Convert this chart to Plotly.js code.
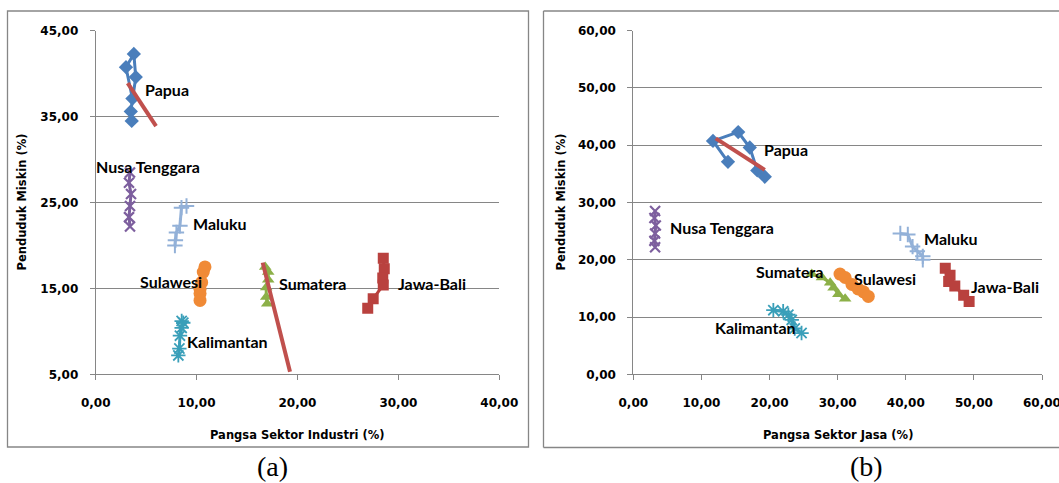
<!DOCTYPE html>
<html>
<head>
<meta charset="utf-8">
<script src="https://cdn.plot.ly/plotly-3.0.1.min.js"></script>
<style>
  html, body { margin: 0; padding: 0; background: #ffffff; }
  #chart { width: 1059px; height: 483px; }
</style>
</head>
<body>
<div id="chart"></div>
<script>
// ---- Data ----
const regions = ['Papua', 'Nusa Tenggara', 'Maluku', 'Sulawesi', 'Sumatera', 'Jawa-Bali', 'Kalimantan'];

// Penduduk Miskin (%) per region (same values in both panels)
const povPapua      = [37.1, 40.75, 42.3, 39.6, 35.6, 34.5];
const povNusa       = [28.5, 27.3, 26.0, 24.6, 23.3, 22.2];
const povMaluku     = [24.6, 24.4, 22.3, 21.5, 20.6, 20.0];
const povSulawesi   = [17.5, 16.9, 15.7, 14.9, 14.4, 13.6];
const povSumatera   = [17.5, 16.9, 16.0, 15.1, 14.0, 13.2];
const povJawaBali   = [18.5, 17.3, 16.2, 15.4, 13.8, 12.7];
const povKalimantan = [11.2, 11.0, 10.4, 9.5, 8.0, 7.2];

// Pangsa Sektor Industri (%)  -- panel (a)
const indPapua      = [3.64, 3.0, 3.78, 3.97, 3.48, 3.57];
const indNusa       = [3.4, 3.3, 3.5, 3.4, 3.3, 3.4];
const indMaluku     = [9.0, 8.5, 8.35, 8.0, 7.9, 7.85];
const indSulawesi   = [10.83, 10.66, 10.5, 10.34, 10.34, 10.34];
const indSumatera   = [16.8, 17.1, 17.1, 16.9, 16.9, 17.0];
const indJawaBali   = [28.5, 28.6, 28.45, 28.5, 27.5, 26.96];
const indKalimantan = [8.52, 8.68, 8.52, 8.35, 8.29, 8.19];

// Pangsa Sektor Jasa (%)  -- panel (b)
const jasaPapua      = [13.9, 11.7, 15.4, 17.1, 18.2, 19.3];
const jasaNusa       = [3.2, 3.1, 3.3, 3.2, 3.1, 3.2];
const jasaMaluku     = [39.2, 40.3, 41.0, 41.7, 42.5, 42.5];
const jasaSulawesi   = [30.35, 31.1, 32.1, 33.0, 33.8, 34.5];
const jasaSumatera   = [26.2, 27.7, 28.9, 29.4, 30.1, 31.1];
const jasaJawaBali   = [45.8, 46.5, 46.3, 47.2, 48.5, 49.3];
const jasaKalimantan = [20.56, 22.0, 22.76, 23.26, 23.7, 24.7];

// Linear trend lines (end points)
const trendPapuaIndX = [3.17, 5.98],  trendPapuaIndY = [38.9, 33.9];
const trendSumIndX   = [16.55, 19.26], trendSumIndY  = [18.0, 5.3];
const trendPapuaJasaX = [12.1, 19.3], trendPapuaJasaY = [41.2, 35.7];

// Axis tick values
const ticksA_x = [0, 10, 20, 30, 40];
const ticksA_y = [5, 15, 25, 35, 45];
const ticksB_x = [0, 10, 20, 30, 40, 50, 60];
const ticksB_y = [0, 10, 20, 30, 40, 50, 60];

// ---- Styles ----
const styles = {
  'Papua':        {color: '#4A7EBB', symbol: 'diamond',        size: 11, lw: 0},
  'Nusa Tenggara':{color: '#7D5F9E', symbol: 'x-thin-open',    size: 10, lw: 2.2},
  'Maluku':       {color: '#93B1D8', symbol: 'cross-thin-open',size: 11, lw: 2},
  'Sulawesi':     {color: '#F08A36', symbol: 'circle',         size: 13, lw: 0},
  'Sumatera':     {color: '#8CB048', symbol: 'triangle-up',    size: 11, lw: 0},
  'Jawa-Bali':    {color: '#B9413E', symbol: 'square',         size: 11, lw: 0},
  'Kalimantan':   {color: '#3A9FB9', symbol: 'asterisk-open',  size: 12, lw: 1.8}
};

const dataA = {
  'Papua': [indPapua, povPapua], 'Nusa Tenggara': [indNusa, povNusa], 'Maluku': [indMaluku, povMaluku],
  'Sulawesi': [indSulawesi, povSulawesi], 'Sumatera': [indSumatera, povSumatera],
  'Jawa-Bali': [indJawaBali, povJawaBali], 'Kalimantan': [indKalimantan, povKalimantan]
};
const dataB = {
  'Papua': [jasaPapua, povPapua], 'Nusa Tenggara': [jasaNusa, povNusa], 'Maluku': [jasaMaluku, povMaluku],
  'Sulawesi': [jasaSulawesi, povSulawesi], 'Sumatera': [jasaSumatera, povSumatera],
  'Jawa-Bali': [jasaJawaBali, povJawaBali], 'Kalimantan': [jasaKalimantan, povKalimantan]
};

function seriesTrace(name, xy, xa, ya) {
  const s = styles[name];
  const open = s.symbol.indexOf('open') >= 0;
  return {
    type: 'scatter', mode: 'lines+markers', name: name,
    x: xy[0], y: xy[1], xaxis: xa, yaxis: ya, showlegend: false, hoverinfo: 'skip',
    line: {color: s.color, width: 3},
    marker: {symbol: s.symbol, size: s.size, color: s.color,
             line: {color: s.color, width: open ? s.lw : 0}}
  };
}
function trendTrace(x, y, xa, ya) {
  return {type: 'scatter', mode: 'lines', x: x, y: y, xaxis: xa, yaxis: ya,
          showlegend: false, hoverinfo: 'skip', line: {color: '#C0504D', width: 4}};
}

const traces = [];
regions.forEach(r => traces.push(seriesTrace(r, dataA[r], 'x', 'y')));
traces.push(trendTrace(trendPapuaIndX, trendPapuaIndY, 'x', 'y'));
traces.push(trendTrace(trendSumIndX, trendSumIndY, 'x', 'y'));
regions.forEach(r => traces.push(seriesTrace(r, dataB[r], 'x2', 'y2')));
traces.push(trendTrace(trendPapuaJasaX, trendPapuaJasaY, 'x2', 'y2'));

const W = 1059, H = 483;
const px = v => v / W, py = v => 1 - v / H;

const tickFont = {family: 'DejaVu Sans', size: 12, color: '#000', weight: 'bold'};
const gray = '#868686';
function xAxis(domain, range, tv, anchor) {
  return {domain: domain, range: range, tickvals: tv, tickformat: '.2f', showgrid: false, zeroline: false,
          showline: true, linecolor: gray, linewidth: 1, ticks: 'outside', ticklen: 5, tickcolor: gray,
          tickfont: tickFont, ticklabelstandoff: 12, ticklabeloverflow: 'allow', anchor: anchor, fixedrange: true};
}
function yAxis(domain, range, tv, anchor) {
  return {domain: domain, range: range, tickvals: tv, tickformat: '.2f', showgrid: true, gridcolor: gray,
          gridwidth: 1, zeroline: false, showline: true, linecolor: gray, linewidth: 1, ticks: 'outside',
          ticklen: 5, tickcolor: gray, tickfont: tickFont, ticklabelstandoff: 9, anchor: anchor, fixedrange: true};
}

const labelFont = {family: 'Lato', size: 16, color: '#000', weight: 'bold'};
function lab(text, x, y, xref, yref) {
  return {text: text, x: x, y: y, xref: xref, yref: yref, showarrow: false, font: labelFont,
          xanchor: 'center', yanchor: 'middle'};
}
const titleFont = {family: 'DejaVu Sans', size: 11.5, color: '#000', weight: 'bold'};

const annotations = [
  lab('Papua', 7.04, 38.1, 'x', 'y'),
  lab('Nusa Tenggara', 5.18, 29.17, 'x', 'y'),
  lab('Maluku', 12.32, 22.58, 'x', 'y'),
  lab('Sulawesi', 7.51, 15.78, 'x', 'y'),
  lab('Sumatera', 21.49, 15.59, 'x', 'y'),
  lab('Jawa-Bali', 33.33, 15.59, 'x', 'y'),
  lab('Kalimantan', 13.11, 8.8, 'x', 'y'),
  lab('Papua', 22.42, 39.2, 'x2', 'y2'),
  lab('Nusa Tenggara', 13.0, 25.6, 'x2', 'y2'),
  lab('Maluku', 46.6, 23.7, 'x2', 'y2'),
  lab('Sulawesi', 37.0, 16.8, 'x2', 'y2'),
  lab('Sumatera', 22.9, 18.0, 'x2', 'y2'),
  lab('Jawa-Bali', 54.6, 15.4, 'x2', 'y2'),
  lab('Kalimantan', 17.9, 8.2, 'x2', 'y2'),
  {text: 'Pangsa Sektor Industri (%)', x: px(297.5), y: py(435), xref: 'paper', yref: 'paper',
   showarrow: false, font: titleFont, xanchor: 'center', yanchor: 'middle'},
  {text: 'Pangsa Sektor Jasa (%)', x: px(838), y: py(435), xref: 'paper', yref: 'paper',
   showarrow: false, font: titleFont, xanchor: 'center', yanchor: 'middle'},
  {text: 'Penduduk Miskin (%)', x: px(22), y: py(202.5), xref: 'paper', yref: 'paper', textangle: -90,
   showarrow: false, font: titleFont, xanchor: 'center', yanchor: 'middle'},
  {text: 'Penduduk Miskin (%)', x: px(561), y: py(202.5), xref: 'paper', yref: 'paper', textangle: -90,
   showarrow: false, font: titleFont, xanchor: 'center', yanchor: 'middle'},
  {text: '(a)', x: px(272), y: py(466), xref: 'paper', yref: 'paper', showarrow: false,
   font: {family: 'Liberation Serif', size: 28, color: '#000'}, xanchor: 'center', yanchor: 'middle'},
  {text: '(b)', x: px(866), y: py(466), xref: 'paper', yref: 'paper', showarrow: false,
   font: {family: 'Liberation Serif', size: 28, color: '#000'}, xanchor: 'center', yanchor: 'middle'}
];

const frameLine = {color: gray, width: 1.3};
const shapes = [
  {type: 'rect', xref: 'paper', yref: 'paper', x0: px(7.5), x1: px(528.5), y0: py(447), y1: py(11), line: frameLine},
  {type: 'line', xref: 'paper', yref: 'paper', x0: px(543.5), x1: px(543.5), y0: py(447.5), y1: py(11), line: frameLine},
  {type: 'line', xref: 'paper', yref: 'paper', x0: px(543.5), x1: 1, y0: py(11), y1: py(11), line: frameLine},
  {type: 'line', xref: 'paper', yref: 'paper', x0: px(543.5), x1: 1, y0: py(447.5), y1: py(447.5), line: frameLine}
];

const yDom = [py(374.3), py(30.7)];
const layout = {
  width: W, height: H, margin: {l: 0, r: 0, t: 0, b: 0, pad: 0},
  paper_bgcolor: '#ffffff', plot_bgcolor: '#ffffff', separators: ',.',
  showlegend: false,
  xaxis: xAxis([px(95.7), px(499.3)], [0, 40], ticksA_x, 'y'),
  yaxis: yAxis(yDom, [5, 45], ticksA_y, 'x'),
  xaxis2: xAxis([px(633.3), px(1042)], [0, 60], ticksB_x, 'y2'),
  yaxis2: yAxis(yDom, [0, 60], ticksB_y, 'x2'),
  annotations: annotations,
  shapes: shapes
};

Plotly.newPlot('chart', traces, layout, {staticPlot: true, displayModeBar: false});
</script>
</body>
</html>
